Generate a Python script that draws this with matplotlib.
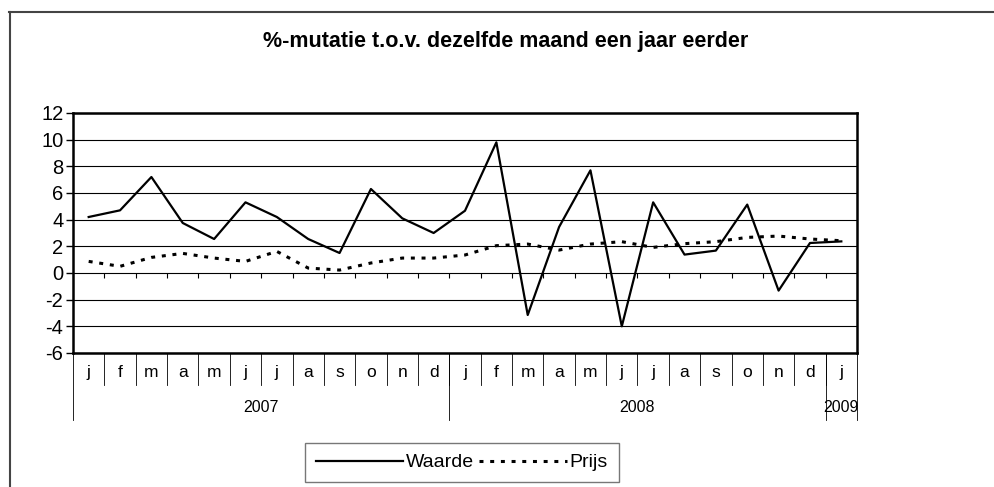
import matplotlib
matplotlib.use('Agg')
import matplotlib.pyplot as plt
from matplotlib.lines import Line2D

months = ['j', 'f', 'm', 'a', 'm', 'j', 'j', 'a', 's', 'o', 'n', 'd',
          'j', 'f', 'm', 'a', 'm', 'j', 'j', 'a', 's', 'o', 'n', 'd',
          'j']
years = ['2007', '2008', '2009']
year_len = [12, 12, 1]

waarde = [4.2, 4.7, 7.2, 3.75, 2.55, 5.3, 4.2, 2.55, 1.5, 6.3, 4.1, 3.0,
          4.67, 9.8, -3.15, 3.45, 7.7, -4.0, 5.3, 1.38, 1.68, 5.13, -1.32, 2.25,
          2.37]
prijs = [0.87, 0.5, 1.17, 1.47, 1.12, 0.87, 1.62, 0.37, 0.22, 0.75, 1.12, 1.12,
         1.35, 2.05, 2.17, 1.72, 2.17, 2.35, 1.92, 2.2, 2.35, 2.67, 2.77, 2.55,
         2.42]

plt.rcParams['font.family'] = ['Liberation Sans', 'DejaVu Sans']
plt.rcParams['axes.unicode_minus'] = False

fig = plt.figure(figsize=(9.95, 4.87), dpi=100)
ax = fig.add_axes([73 / 995, 1 - 353 / 487, 784 / 995, 240 / 487])

x = list(range(len(months)))
ax.plot(x, waarde, color='black', lw=1.6, label='Waarde')
ax.plot(x, prijs, color='black', lw=2.2, linestyle=(0, (1.3, 2.2)), label='Prijs')

ax.set_xlim(-0.5, len(months) - 0.5)
ax.set_ylim(-6, 12)
ax.set_yticks(range(-6, 13, 2))
ax.tick_params(axis='y', labelsize=14.5, length=5, width=1, direction='out', pad=2)
ax.set_xticks([])
ax.yaxis.grid(True, color='black', lw=0.8)
ax.set_axisbelow(True)
for s in ax.spines.values():
    s.set_linewidth(1.8)

# small ticks on the zero line
bounds = [i - 0.5 for i in range(1, len(months))]
ax.vlines(bounds, -0.35, 0, color='black', lw=0.8)

# category axis below the plot
tr = ax.get_xaxis_transform()
for i, m in enumerate(months):
    ax.text(i, -0.08, m, transform=tr, ha='center', va='center', fontsize=12.5)
for b in bounds:
    ax.plot([b, b], [0, -0.135], transform=tr, color='black', lw=0.6, clip_on=False)
edges = [-0.5]
for n in year_len:
    edges.append(edges[-1] + n)
for e in edges:
    ax.plot([e, e], [0, -0.28], transform=tr, color='black', lw=0.6, clip_on=False)
for k, yr in enumerate(years):
    mid = (edges[k] + edges[k + 1]) / 2
    ax.text(mid, -0.225, yr, transform=tr, ha='center', va='center', fontsize=11.5)

fig.text(506 / 995, 1 - 42 / 487, '%-mutatie t.o.v. dezelfde maand een jaar eerder',
         ha='center', va='center', fontsize=15.5, fontweight='bold')

# chart area border
fig.add_artist(Line2D([9 / 995, 1], [1 - 12 / 487, 1 - 12 / 487], color='#444444', lw=1.5))
fig.add_artist(Line2D([9.5 / 995, 9.5 / 995], [0, 1 - 12 / 487], color='#444444', lw=1.5))

leg = ax.legend(loc='upper center', bbox_to_anchor=(462 / 995, 1 - 443 / 487),
                bbox_transform=fig.transFigure, ncol=2, frameon=True, fancybox=False,
                fontsize=14, handlelength=4.5, handletextpad=0.15, columnspacing=0.25,
                borderpad=0.55, borderaxespad=0)
leg.get_frame().set_edgecolor('#555555')
leg.get_frame().set_linewidth(1)

fig.savefig('out.png', dpi=100)
